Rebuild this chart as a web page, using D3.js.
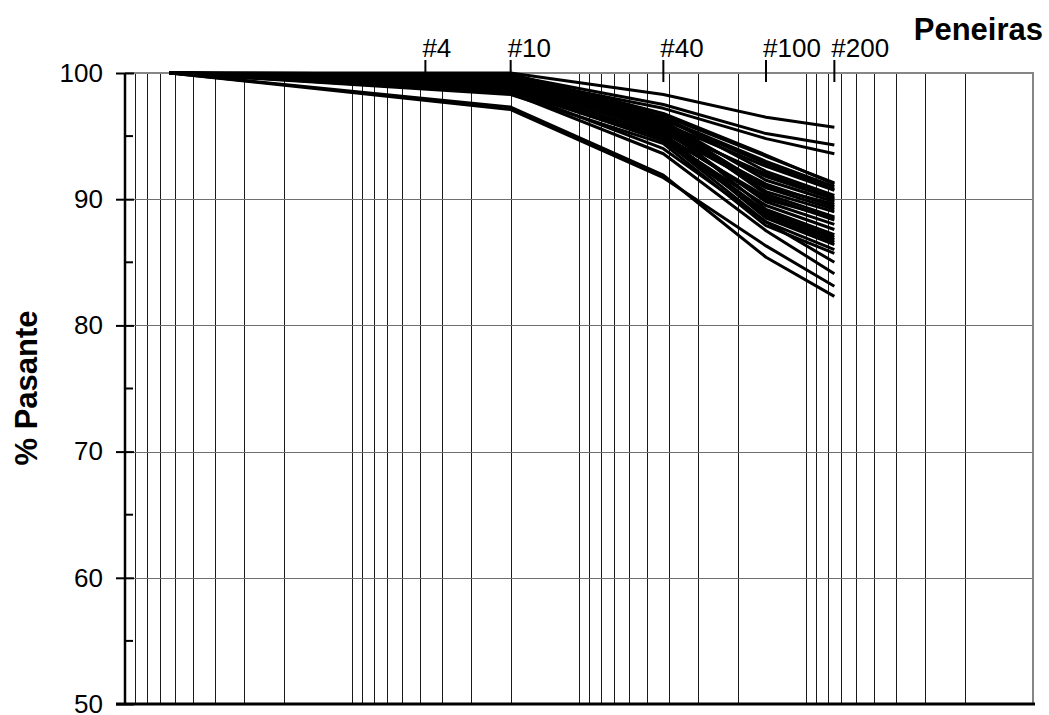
<!DOCTYPE html>
<html>
<head>
<meta charset="utf-8">
<script src="https://cdn.jsdelivr.net/npm/d3@7"></script>
<style>
	body { margin: 0; background: #fff; }
	svg { display: block; font-family: "Liberation Sans", Arial, sans-serif; }
</style>
</head>
<body>
<script>
// sieves shown on the top edge
var sieveNames = ["#4", "#10", "#40", "#100", "#200"];
var sieveOpenings = [4.75, 2.0, 0.425, 0.15, 0.075];

// sizes (mm) where each curve has a point
var curveSizes = [63.5, 2.0, 0.425, 0.15, 0.075];

// % passing for every sample, same order as curveSizes
var curves = [
	[100, 100.0, 98.3, 96.5, 95.7],
	[100, 99.8, 97.5, 95.2, 94.3],
	[100, 99.6, 97.2, 94.8, 93.6],
	[100, 99.9, 96.6, 93.4, 91.3],
	[100, 99.9, 96.8, 93.5, 91.2],
	[100, 99.7, 96.4, 93.0, 91.0],
	[100, 99.7, 96.3, 92.8, 90.8],
	[100, 99.5, 96.0, 92.6, 90.7],
	[100, 99.8, 96.5, 92.2, 90.3],
	[100, 99.3, 95.6, 92.0, 90.1],
	[100, 99.5, 95.9, 91.8, 90.0],
	[100, 99.6, 96.2, 91.5, 89.8],
	[100, 99.3, 96.0, 91.0, 89.6],
	[100, 99.2, 95.4, 91.2, 89.4],
	[100, 99.2, 95.3, 90.9, 89.2],
	[100, 99.0, 95.8, 90.6, 89.0],
	[100, 99.4, 96.1, 90.4, 88.6],
	[100, 99.0, 95.1, 90.0, 88.5],
	[100, 98.9, 95.0, 90.2, 88.35],
	[100, 99.1, 95.5, 89.8, 88.0],
	[100, 98.7, 94.8, 89.5, 87.6],
	[100, 99.0, 95.9, 89.2, 87.2],
	[100, 98.8, 95.0, 89.0, 87.0],
	[100, 98.8, 94.6, 88.9, 86.8],
	[100, 98.9, 94.9, 88.7, 86.6],
	[100, 98.5, 95.2, 88.5, 86.4],
	[100, 98.6, 94.7, 88.2, 86.0],
	[100, 98.3, 94.4, 87.9, 85.7],
	[100, 98.6, 94.0, 88.2, 85.0],
	[100, 98.4, 93.6, 87.5, 84.1],
	[100, 97.1, 91.7, 86.3, 83.1],
	[100, 97.3, 91.9, 85.4, 82.3]
];

var w = 1049, h = 715;
var pLeft = 125, pRight = 1033, pTop = 73, pBottom = 704;

var svg = d3.select("body").
append("svg").
attr("width", w).
attr("height", h);

// log scale, coarse on the left
var x = d3.scaleLog().domain([100, 0.01]).range([pLeft, pRight]);
var y = d3.scaleLinear().domain([50, 100]).range([pBottom, pTop]);

// vertical grid, one line per 1..9 of each decade
svg.append("g").
selectAll("line").
data(x.ticks().filter(function (d) {return d < 100 && d > 0.01;})).
enter().append("line").
attr("x1", function (d) {return Math.round(x(d)) + 0.5;}).
attr("x2", function (d) {return Math.round(x(d)) + 0.5;}).
attr("y1", pTop).
attr("y2", pBottom).
attr("stroke", "#1a1a1a").
attr("stroke-width", 1);

// horizontal grid
svg.append("g").
selectAll("line").
data([60, 70, 80, 90]).
enter().append("line").
attr("x1", pLeft).
attr("x2", pRight).
attr("y1", function (d) {return Math.round(y(d)) + 0.5;}).
attr("y2", function (d) {return Math.round(y(d)) + 0.5;}).
attr("stroke", "#6e6e6e").
attr("stroke-width", 1);

// top and right frame
svg.append("path").
attr("d", "M" + pLeft + "," + pTop + "H" + pRight + "V" + pBottom).
attr("fill", "none").
attr("stroke", "#868686").
attr("stroke-width", 2);

// curves
var line = d3.line().
x(function (d, i) {return x(curveSizes[i]);}).
y(function (d) {return y(d);});

svg.append("g").
selectAll("path").
data(curves).
enter().append("path").
attr("d", line).
attr("fill", "none").
attr("stroke", "#000").
attr("stroke-width", 3).
attr("stroke-linejoin", "round");

// y axis
var yAxis = d3.axisLeft(y).tickValues(d3.range(50, 101, 10)).tickSize(9).tickPadding(13).tickFormat(d3.format("d"));
var gy = svg.append("g").
attr("transform", "translate(" + pLeft + ",0)").
call(yAxis);
gy.select(".domain").remove();
gy.selectAll(".tick line").attr("x2", -9).attr("x1", 9).attr("stroke", "#000").attr("stroke-width", 2);
gy.selectAll(".tick text").
style("font-size", "26px").
style("font-family", "'Liberation Sans', Arial, sans-serif").
attr("fill", "#000");

// minor ticks
svg.append("g").
selectAll("line").
data(y.ticks(10).filter(function (d) {return d % 10 !== 0;})).
enter().append("line").
attr("x1", pLeft).
attr("x2", pLeft + 8).
attr("y1", function (d) {return y(d);}).
attr("y2", function (d) {return y(d);}).
attr("stroke", "#000").
attr("stroke-width", 2);

// axis lines
svg.append("line").
attr("x1", pLeft).attr("x2", pLeft).
attr("y1", pTop).attr("y2", pBottom + 1).
attr("stroke", "#000").attr("stroke-width", 2.5);

svg.append("line").
attr("x1", pLeft - 9).attr("x2", pRight + 2).
attr("y1", pBottom).attr("y2", pBottom).
attr("stroke", "#000").attr("stroke-width", 3);

// sieve marks on top
var sv = svg.append("g").
selectAll("g").
data(sieveNames).
enter().append("g");

sv.append("line").
attr("x1", function (d, i) {return x(sieveOpenings[i]);}).
attr("x2", function (d, i) {return x(sieveOpenings[i]);}).
attr("y1", 60).
attr("y2", 82).
attr("stroke", "#000").
attr("stroke-width", 2);

sv.append("text").
attr("x", function (d, i) {return x(sieveOpenings[i]) - 3;}).
attr("y", 57).
style("font-size", "26px").
text(function (d) {return d;});

// titles
svg.append("text").
attr("x", 1043).
attr("y", 40).
attr("text-anchor", "end").
style("font-size", "31px").
style("font-weight", "bold").
text("Peneiras");

svg.append("text").
attr("transform", "translate(37,388) rotate(-90)").
attr("text-anchor", "middle").
style("font-size", "31px").
style("font-weight", "bold").
text("% Pasante");
</script>
</body>
</html>
